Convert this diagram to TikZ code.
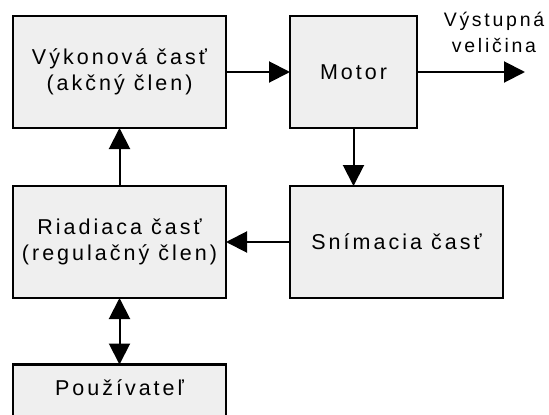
\documentclass[tikz,border=0pt]{standalone}
\usepackage{fontspec}
\setmainfont{Liberation Sans}[LetterSpace=14]
\usetikzlibrary{positioning,arrows.meta}
\definecolor{blokfill}{RGB}{239,239,239}
\begin{document}
\begin{tikzpicture}[x=1pt, y=-1pt, node distance=58pt, >={Triangle[length=21pt,width=21pt]},
    blok/.style={draw, line width=2.5pt, fill=blokfill, outer sep=0pt, minimum width=213pt,
        minimum height=112pt, align=center, font=\fontsize{21.5}{26}\selectfont},
    spoj/.style={line width=2pt}]
        \clip (0,0) rectangle (549,415);
        % bloky
        \node[blok, anchor=north west] (vykon) at (13,16) {Výkonová časť\\(akčný člen)};
        \node[blok, minimum width=127pt, right=64pt of vykon] (motor) {Motor};
        \node[blok, below right=58pt and 0pt of motor.south west] (snim) {Snímacia časť};
        \node[blok, below=of vykon] (riad) {Riadiaca časť\\(regulačný člen)};
        \node[blok, minimum height=0pt, inner ysep=0pt, text height=30.5pt, text depth=40pt,
            below=66.5pt of riad] (pouz) {Používateľ};

        % vystup
        \coordinate (vystup) at (525,72);
        \node[align=center, font=\fontsize{19.5}{26}\selectfont] (vlabel) at (494,32) {Výstupná\\veličina};

        % spoje
        \draw[->, spoj] (vykon) -- (motor);
        \draw[->, spoj] (motor) -- (vystup);
        \draw[->, spoj] (motor.south) -- (motor.south |- snim.north);
        \draw[->, spoj] (snim) -- (riad);
        \draw[->, spoj] (riad) -- (vykon);
        \draw[<->, spoj] (riad) -- (pouz);
    \end{tikzpicture}
\end{document}
